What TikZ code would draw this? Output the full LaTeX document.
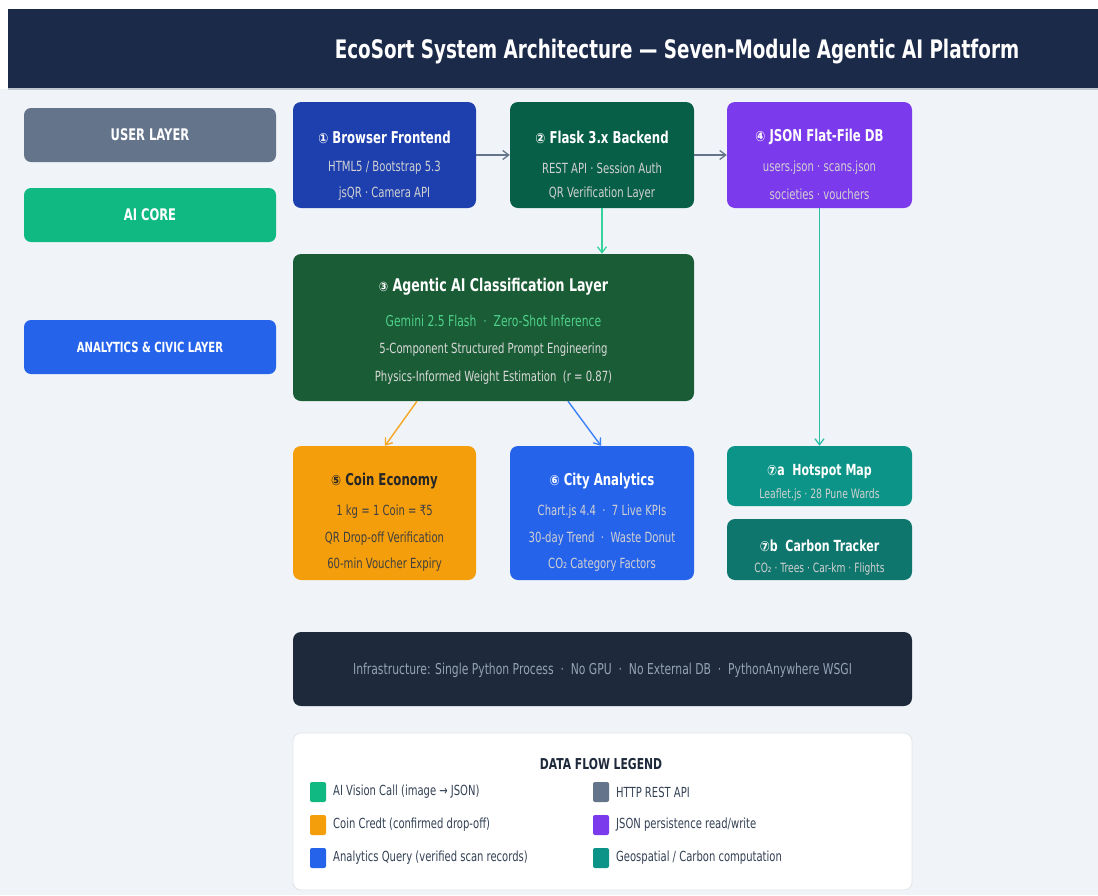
\documentclass[tikz,border=0pt]{standalone}
\usepackage{fontspec}
\setmainfont{DejaVu Sans}[FakeStretch=0.72]
\newfontfamily\sym{DejaVu Sans}[FakeStretch=0.85]
\usetikzlibrary{arrows.meta}
\definecolor{bgc}{HTML}{F0F4F8}
\definecolor{headc}{HTML}{1C2A4A}
\definecolor{userc}{HTML}{64748B}
\definecolor{aic}{HTML}{10B981}
\definecolor{anac}{HTML}{2563EB}
\definecolor{browc}{HTML}{1E40AF}
\definecolor{flaskc}{HTML}{065F46}
\definecolor{jsonc}{HTML}{7C3AED}
\definecolor{agentc}{HTML}{1A5C35}
\definecolor{agentg}{HTML}{4FD18B}
\definecolor{coinc}{HTML}{F59E0B}
\definecolor{cityc}{HTML}{2563EB}
\definecolor{hotc}{HTML}{0D9488}
\definecolor{carbc}{HTML}{0F766E}
\definecolor{infrac}{HTML}{1E293B}
\definecolor{infrat}{HTML}{94A3B8}
\definecolor{legt}{HTML}{334155}
\definecolor{arrg}{HTML}{64748B}
\definecolor{arrgreen}{HTML}{34D399}
\definecolor{arrteal}{HTML}{2DBFA8}
\definecolor{arror}{HTML}{F5A623}
\definecolor{arrbl}{HTML}{3B82F6}
\newcommand{\fs}[1]{\fontsize{#1}{#1}\selectfont}
\tikzset{
  modbox/.style={rounded corners=8pt, inner sep=0pt, draw=none},
  laybox/.style={rounded corners=7pt, inner sep=0pt, draw=none, minimum width=252pt, minimum height=54pt,
     text=white, font=\fs{16}\bfseries},
  ttl/.style={inner sep=0pt, text=white, font=\fs{16.3}\bfseries},
  sub/.style={inner sep=0pt, text=white!82!black, font=\fs{14}},
  flow/.style={line width=1.4pt, -{Straight Barb[length=6pt,width=9pt,line width=1.3pt]}},
  legsq/.style={rounded corners=2pt, inner sep=0pt, minimum width=16pt, minimum height=20pt},
  legtx/.style={inner sep=0pt, anchor=west, text=legt, font=\fs{13.9}},
}
\begin{document}
\begin{tikzpicture}[x=1pt,y=-1pt]
\useasboundingbox (0,0) rectangle (1098,895);
\fill[white] (0,0) rectangle (1098,895);
\fill[bgc] (0,89) rectangle (1098,895);
\fill[headc] (8,9) rectangle (1098,88);
\draw[userc!40, line width=1.5pt] (8,89) -- (1098,89);
\node[inner sep=0pt, text=white, font=\fs{25.5}\bfseries] (title) at (677,52) {EcoSort System Architecture — Seven-Module Agentic AI Platform};

% layer labels
\node[laybox, fill=userc] (user) at (150,135) {USER LAYER};
\node[laybox, fill=aic] (aicore) at (150,215) {AI CORE};
\node[laybox, fill=anac, font=\fs{14}\bfseries] (ana) at (150,347) {ANALYTICS \& CIVIC LAYER};

% top row
\node[modbox, fill=browc, minimum width=183pt, minimum height=106pt] (brow) at (384.5,155) {};
\node[ttl] (browt) at (384.5,137) {{\sym\fs{14}①} Browser Frontend};
\node[sub] (brow1) at (384.5,168) {HTML5 / Bootstrap 5.3};
\node[sub] (brow2) at (384.5,194) {jsQR · Camera API};

\node[modbox, fill=flaskc, minimum width=184pt, minimum height=106pt] (flask) at (602,155) {};
\node[ttl] (flaskt) at (602,137) {{\sym\fs{14}②} Flask 3.x Backend};
\node[sub] (flask1) at (602,168) {REST API · Session Auth};
\node[sub] (flask2) at (602,194) {QR Verification Layer};

\node[modbox, fill=jsonc, minimum width=185pt, minimum height=106pt] (json) at (819.5,155) {};
\node[ttl] (jsont) at (819.5,137) {{\sym\fs{14}④} JSON Flat-File DB};
\node[sub] (json1) at (819.5,168) {users.json · scans.json};
\node[sub] (json2) at (819.5,194) {societies · vouchers};

% agentic
\node[modbox, fill=agentc, minimum width=401pt, minimum height=147pt] (agent) at (493.5,327.5) {};
\node[ttl, font=\fs{17.5}\bfseries] (agentt) at (493.5,287) {{\sym\fs{13}③} Agentic AI Classification Layer};
\node[sub, text=agentg, font=\fs{15}] (agent1) at (493.5,321) {Gemini 2.5 Flash \ · \ Zero-Shot Inference};
\node[sub, text=white!85!black] (agent2) at (493.5,350) {5-Component Structured Prompt Engineering};
\node[sub, text=white!85!black] (agent3) at (493.5,378) {Physics-Informed Weight Estimation \ (r = 0.87)};

% bottom row
\node[modbox, fill=coinc, minimum width=183pt, minimum height=134pt] (coin) at (384.5,513) {};
\node[ttl, text=black!85] (coint) at (384.5,481) {{\sym\fs{14}⑤} Coin Economy};
\node[sub, text=black!75] (coin1) at (384.5,512) {1 kg = 1 Coin = ₹5};
\node[sub, text=black!75] (coin2) at (384.5,539) {QR Drop-off Verification};
\node[sub, text=black!75] (coin3) at (384.5,565) {60-min Voucher Expiry};

\node[modbox, fill=cityc, minimum width=184pt, minimum height=134pt] (city) at (602,513) {};
\node[ttl] (cityt) at (602,481) {{\sym\fs{14}⑥} City Analytics};
\node[sub] (city1) at (602,512) {Chart.js 4.4 \ · \ 7 Live KPIs};
\node[sub] (city2) at (602,539) {30-day Trend \ · \ Waste Donut};
\node[sub] (city3) at (602,565) {CO₂ Category Factors};

\node[modbox, fill=hotc, minimum width=185pt, minimum height=60pt] (hot) at (819.5,476) {};
\node[ttl, font=\fs{15.3}\bfseries] (hott) at (819.5,472) {{\sym\fs{14}⑦}a \ Hotspot Map};
\node[sub, font=\fs{12.9}] (hot1) at (819.5,495) {Leaflet.js · 28 Pune Wards};

\node[modbox, fill=carbc, minimum width=185pt, minimum height=61pt] (carb) at (819.5,549.5) {};
\node[ttl, font=\fs{15.3}\bfseries] (carbt) at (819.5,546) {{\sym\fs{14}⑦}b \ Carbon Tracker};
\node[sub, font=\fs{12.7}] (carb1) at (819.5,569) {CO₂ · Trees · Car-km · Flights};

% infrastructure
\node[modbox, fill=infrac, minimum width=619pt, minimum height=74pt] (infra) at (602.5,669) {};
\node[sub, text=infrat, font=\fs{15}] (infrat) at (602.5,670) {Infrastructure: Single Python Process \ · \ No GPU \ · \ No External DB \ · \ PythonAnywhere WSGI};

% legend
\node[rounded corners=8pt, fill=white, draw=userc!20, line width=0.8pt, minimum width=619pt, minimum height=157pt, inner sep=0pt] (leg) at (602.5,811.5) {};
\node[inner sep=0pt, text=infrac, font=\fs{15}\bfseries] (legtitle) at (601,764) {DATA FLOW LEGEND};
\node[legsq, fill=aic] (sq1) at (318,792) {};
\node[legtx] (lt1) at (333,792) {AI Vision Call (image → JSON)};
\node[legsq, fill=coinc] (sq2) at (318,825) {};
\node[legtx] (lt2) at (333,825) {Coin Credt (confirmed drop-off)};
\node[legsq, fill=anac] (sq3) at (318,858) {};
\node[legtx] (lt3) at (333,858) {Analytics Query (verified scan records)};
\node[legsq, fill=userc] (sq4) at (601,792) {};
\node[legtx] (lt4) at (616,792) {HTTP REST API};
\node[legsq, fill=jsonc] (sq5) at (601,825) {};
\node[legtx] (lt5) at (616,825) {JSON persistence read/write};
\node[legsq, fill=hotc] (sq6) at (601,858) {};
\node[legtx] (lt6) at (616,858) {Geospatial / Carbon computation};

% connectors
\draw[flow, arrg] (brow.east) -- (flask.west);
\draw[flow, arrg] (flask.east) -- (json.west);
\draw[flow, arrgreen] (flask.south) -- (agent.north -| flask.south);
\draw[flow, arrteal] (json.south) -- (hot.north);
\draw[flow, arror] (agent.south -| 417,0) -- (coin.north -| 385,0);
\draw[flow, arrbl] (agent.south -| 568,0) -- (city.north -| 601,0);
\end{tikzpicture}
\end{document}
